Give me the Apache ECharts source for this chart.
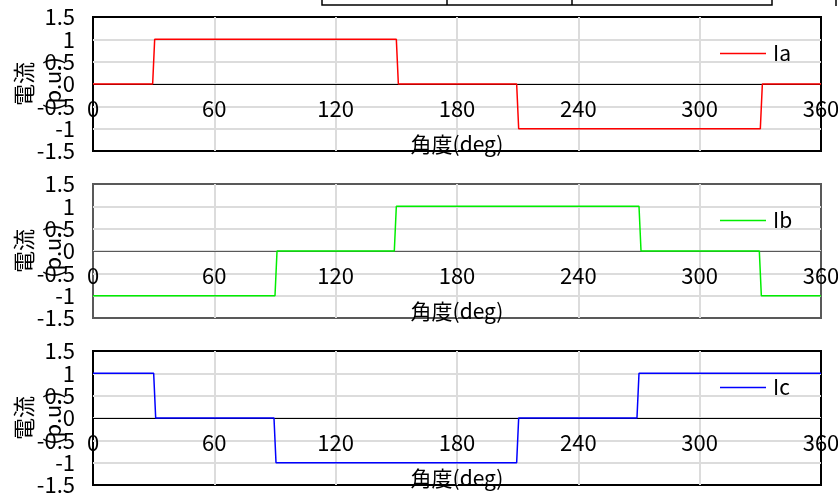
<!DOCTYPE html>
<html>
<head>
<meta charset="utf-8">
<script src="https://cdn.jsdelivr.net/npm/echarts@6/dist/echarts.min.js"></script>
<style>
  html, body { margin: 0; padding: 0; background: #fff; }
  #main { width: 838px; height: 497px; }
</style>
</head>
<body>
<div id="main"></div>
<script>
// angle breakpoints (deg) and current (p.u.) for each phase
var iaAngle = [0, 29.5, 30.5, 150, 151, 209.5, 210.5, 330, 331, 360];
var iaValue = [0, 0, 1, 1, 0, 0, -1, -1, 0, 0];
var ibAngle = [0, 90, 91, 149, 150, 270, 271, 329.5, 330.5, 360];
var ibValue = [-1, -1, 0, 0, 1, 1, 0, 0, -1, -1];
var icAngle = [0, 30, 31, 89.5, 90.5, 209.5, 210.5, 269, 270, 360];
var icValue = [1, 1, 0, 0, -1, -1, 0, 0, 1, 1];

var seriesNames = ['Ia', 'Ib', 'Ic'];
var seriesColors = ['#ff0000', '#00ee00', '#0000ff'];
var xName = '角度(deg)';
var yName = '電流\n(p.u.)';

var FONT = '"Noto Sans CJK JP", sans-serif';

function pairs(a, v) {
    var out = [];
    for (var i = 0; i < a.length; i++) out.push([a[i], v[i]]);
    return out;
}

var panelTops = [17, 184, 351];
var panelH = 134;
var borderColors = ['#000', '#595959', '#000'];
var allData = [pairs(iaAngle, iaValue), pairs(ibAngle, ibValue), pairs(icAngle, icValue)];

var grids = [], xAxes = [], yAxes = [], series = [], legends = [];
for (var k = 0; k < 3; k++) {
    grids.push({
        left: 93, right: 17, top: panelTops[k], height: panelH,
        containLabel: false, outerBoundsMode: 'none',
        show: true, borderColor: borderColors[k], borderWidth: 2,
        backgroundColor: 'transparent'
    });
    // x axis drawn across the middle (value 0) of the panel
    xAxes.push({
        gridIndex: k, type: 'value', min: 0, max: 360, interval: 60,
        position: 'bottom', offset: -panelH / 2,
        name: xName, nameLocation: 'middle', nameGap: 50, nameMoveOverlap: false,
        nameTextStyle: { fontSize: 21, color: '#000', fontFamily: FONT },
        axisLine: { onZero: false, lineStyle: { color: borderColors[k], width: 1.2 } },
        axisTick: { show: false },
        axisLabel: { fontSize: 22, color: '#000', margin: 14, fontFamily: FONT, showMinLabel: true, showMaxLabel: true },
        splitLine: { show: true, showMinLine: false, showMaxLine: false, lineStyle: { color: '#dcdcdc', width: 2 } }
    });
    yAxes.push({
        gridIndex: k, type: 'value', min: -1.5, max: 1.5, interval: 0.5,
        name: yName, nameLocation: 'middle', nameRotate: 90, nameGap: 26, nameMoveOverlap: false,
        nameTextStyle: { fontSize: 22, lineHeight: 29, color: '#000', fontFamily: FONT },
        axisLine: { show: false },
        axisTick: { show: false },
        axisLabel: { fontSize: 22, color: '#000', margin: 18, fontFamily: FONT },
        splitLine: { show: true, showMinLine: false, showMaxLine: false, lineStyle: { color: '#dcdcdc', width: 2 } }
    });
    series.push({
        name: seriesNames[k], type: 'line', xAxisIndex: k, yAxisIndex: k,
        data: allData[k], symbol: 'none', showSymbol: false,
        lineStyle: { color: seriesColors[k], width: 1.5 },
        itemStyle: { color: seriesColors[k] },
        animation: false
    });
    legends.push({
        data: [seriesNames[k]], left: 720, top: panelTops[k] + 26, padding: 0,
        icon: 'rect', itemWidth: 46, itemHeight: 1.5, itemGap: 0,
        textStyle: { fontSize: 21, color: '#000', fontFamily: FONT, padding: [0, 0, 0, 2] }
    });
}

var chart = echarts.init(document.getElementById('main'));
chart.setOption({
    animation: false,
    backgroundColor: '#fff',
    grid: grids,
    xAxis: xAxes,
    yAxis: yAxes,
    legend: legends,
    series: series,
    graphic: [
        // bottom edge of a table cut off above the chart
        { type: 'polyline', shape: { points: [[322, 0], [322, 5], [772, 5], [772, 0]] }, style: { stroke: '#000', lineWidth: 1.5, fill: null } },
        { type: 'line', shape: { x1: 447, y1: 0, x2: 447, y2: 5 }, style: { stroke: '#000', lineWidth: 1.5 } },
        { type: 'line', shape: { x1: 572, y1: 0, x2: 572, y2: 5 }, style: { stroke: '#000', lineWidth: 1.5 } },
        { type: 'line', shape: { x1: 836, y1: 0, x2: 836, y2: 6 }, style: { stroke: '#000', lineWidth: 1.5 } }
    ]
});
</script>
</body>
</html>
